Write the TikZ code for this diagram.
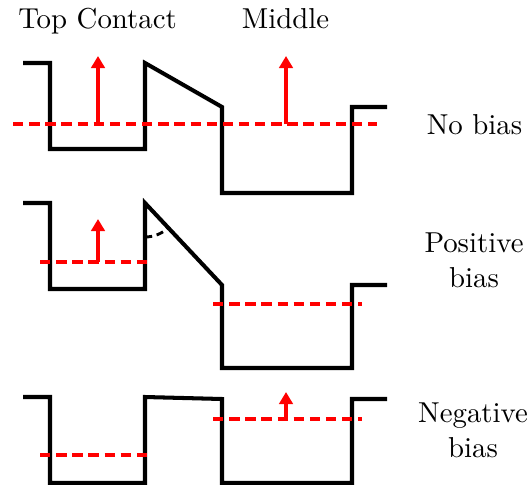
\documentclass[tikz,border=0pt]{standalone}
\usetikzlibrary{arrows.meta}
\begin{document}
\begin{tikzpicture}[x=0.347pt,y=-0.347pt,
  band/.style={draw=black,line width=1.4pt},
  fermi/.style={draw=red,line width=1.4pt,dash pattern=on 3.6pt off 2pt},
  pushup/.style={draw=red,line width=1.4pt,-{Triangle[width=4.7pt,length=4.2pt]}},
  anglemark/.style={draw=black,line width=1pt,dash pattern=on 2.5pt off 1.6pt},
  lbl/.style={anchor=base,inner sep=0pt,align=center,font=\normalsize}]
\useasboundingbox (0,0) rectangle (530,484);
% labels
\node[lbl] (tc) at (97.5,29) {Top Contact};
\node[lbl] (mid) at (285.5,29) {Middle};
\node[lbl] (nb) at (474.5,134) {No bias};
\node[lbl] (pb) at (474,287) {Positive\\bias};
\node[lbl] (ngb) at (473,457) {Negative\\bias};
% panel 1: no bias
\draw[band] (23,63) -- (50,63) -- (50,149) -- (145,149) -- (145,63) -- (222,107) -- (222,193) -- (352,193) -- (352,107) -- (387,107);
\coordinate (f1a) at (13,124);
\coordinate (f1b) at (377,124);
\draw[fermi] (f1a) -- (f1b);
\coordinate (a1s) at (98,124); \coordinate (a1e) at (98,56);
\coordinate (a2s) at (286,124); \coordinate (a2e) at (286,56);
\draw[pushup] (a1s) -- (a1e);
\draw[pushup] (a2s) -- (a2e);
% panel 2: positive bias
\draw[band] (23,203) -- (50,203) -- (50,289) -- (145,289) -- (145,203) -- (222,285) -- (222,368) -- (352,368) -- (352,285) -- (387,285);
\coordinate (f2a) at (40,262); \coordinate (f2b) at (148,262);
\coordinate (f2c) at (213,304); \coordinate (f2d) at (362,304);
\draw[fermi] (f2a) -- (f2b);
\draw[fermi] (f2c) -- (f2d);
\coordinate (a3s) at (98,262); \coordinate (a3e) at (98,219);
\draw[pushup] (a3s) -- (a3e);
\coordinate (arcst) at (145,237);
\draw[anglemark] (arcst) arc[start angle=90,end angle=46.8,radius=34];
% panel 3: negative bias
\draw[band] (23,397) -- (50,397) -- (50,483) -- (145,483) -- (145,397) -- (222,399) -- (222,483) -- (352,483) -- (352,399) -- (387,399);
\coordinate (f3a) at (40,455); \coordinate (f3b) at (148,455);
\coordinate (f3c) at (213,419); \coordinate (f3d) at (362,419);
\draw[fermi] (f3a) -- (f3b);
\draw[fermi] (f3c) -- (f3d);
\coordinate (a4s) at (286,419); \coordinate (a4e) at (286,392);
\draw[pushup] (a4s) -- (a4e);
\end{tikzpicture}
\end{document}
